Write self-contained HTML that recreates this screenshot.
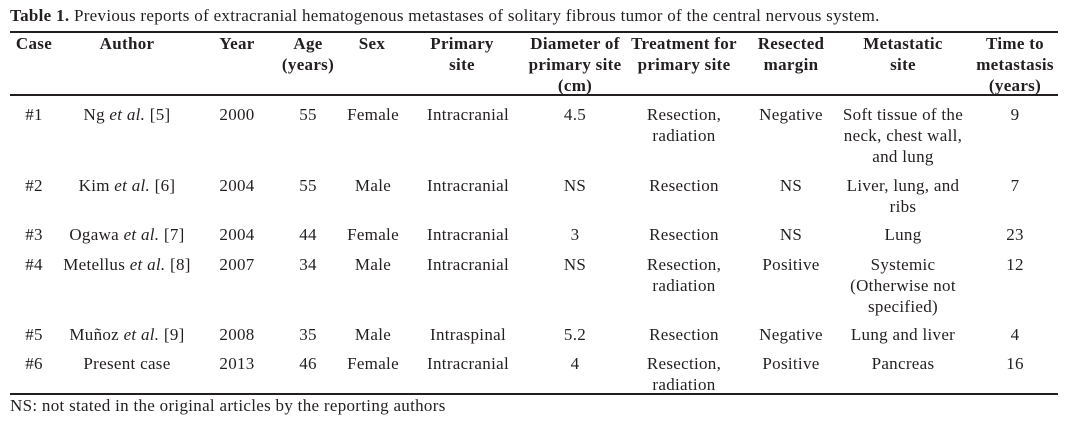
<!DOCTYPE html>
<html><head><meta charset="utf-8"><style>
html,body{margin:0;padding:0;background:#fff;}
body{width:1067px;height:423px;position:relative;overflow:hidden;font-family:"Liberation Serif",serif;color:#231f20;font-size:17px;letter-spacing:0.3px;}
.c{position:absolute;text-align:center;line-height:21px;white-space:nowrap;transform:translateX(-50%);}
.h{font-weight:bold;}
.l{position:absolute;left:10px;width:1048px;background:#231f20;}
</style></head><body>
<div style="position:absolute;left:10px;top:6px;line-height:20px;white-space:nowrap;"><b>Table 1.</b> Previous reports of extracranial hematogenous metastases of solitary fibrous tumor of the central nervous system.</div>
<div class="l" style="top:31px;height:2px"></div>
<div class="l" style="top:94px;height:1.5px"></div>
<div class="l" style="top:393px;height:1.5px"></div>

<div class="c h" style="left:34px;top:33px">Case</div>
<div class="c h" style="left:127px;top:33px">Author</div>
<div class="c h" style="left:237px;top:33px">Year</div>
<div class="c h" style="left:308px;top:33px">Age<br>(years)</div>
<div class="c h" style="left:372px;top:33px">Sex</div>
<div class="c h" style="left:462px;top:33px">Primary<br>site</div>
<div class="c h" style="left:575px;top:33px">Diameter of<br>primary site<br>(cm)</div>
<div class="c h" style="left:684px;top:33px">Treatment for<br>primary site</div>
<div class="c h" style="left:791px;top:33px">Resected<br>margin</div>
<div class="c h" style="left:903px;top:33px">Metastatic<br>site</div>
<div class="c h" style="left:1015px;top:33px">Time to<br>metastasis<br>(years)</div>

<div class="c" style="left:34px;top:104px">#1</div>
<div class="c" style="left:127px;top:104px">Ng <i>et al.</i> [5]</div>
<div class="c" style="left:237px;top:104px">2000</div>
<div class="c" style="left:308px;top:104px">55</div>
<div class="c" style="left:373px;top:104px">Female</div>
<div class="c" style="left:468px;top:104px">Intracranial</div>
<div class="c" style="left:575px;top:104px">4.5</div>
<div class="c" style="left:684px;top:104px">Resection,<br>radiation</div>
<div class="c" style="left:791px;top:104px">Negative</div>
<div class="c" style="left:903px;top:104px">Soft tissue of the<br>neck, chest wall,<br>and lung</div>
<div class="c" style="left:1015px;top:104px">9</div>

<div class="c" style="left:34px;top:175px">#2</div>
<div class="c" style="left:127px;top:175px">Kim <i>et al.</i> [6]</div>
<div class="c" style="left:237px;top:175px">2004</div>
<div class="c" style="left:308px;top:175px">55</div>
<div class="c" style="left:373px;top:175px">Male</div>
<div class="c" style="left:468px;top:175px">Intracranial</div>
<div class="c" style="left:575px;top:175px">NS</div>
<div class="c" style="left:684px;top:175px">Resection</div>
<div class="c" style="left:791px;top:175px">NS</div>
<div class="c" style="left:903px;top:175px">Liver, lung, and<br>ribs</div>
<div class="c" style="left:1015px;top:175px">7</div>

<div class="c" style="left:34px;top:224px">#3</div>
<div class="c" style="left:127px;top:224px">Ogawa <i>et al.</i> [7]</div>
<div class="c" style="left:237px;top:224px">2004</div>
<div class="c" style="left:308px;top:224px">44</div>
<div class="c" style="left:373px;top:224px">Female</div>
<div class="c" style="left:468px;top:224px">Intracranial</div>
<div class="c" style="left:575px;top:224px">3</div>
<div class="c" style="left:684px;top:224px">Resection</div>
<div class="c" style="left:791px;top:224px">NS</div>
<div class="c" style="left:903px;top:224px">Lung</div>
<div class="c" style="left:1015px;top:224px">23</div>

<div class="c" style="left:34px;top:254px">#4</div>
<div class="c" style="left:127px;top:254px">Metellus <i>et al.</i> [8]</div>
<div class="c" style="left:237px;top:254px">2007</div>
<div class="c" style="left:308px;top:254px">34</div>
<div class="c" style="left:373px;top:254px">Male</div>
<div class="c" style="left:468px;top:254px">Intracranial</div>
<div class="c" style="left:575px;top:254px">NS</div>
<div class="c" style="left:684px;top:254px">Resection,<br>radiation</div>
<div class="c" style="left:791px;top:254px">Positive</div>
<div class="c" style="left:903px;top:254px">Systemic<br>(Otherwise not<br>specified)</div>
<div class="c" style="left:1015px;top:254px">12</div>

<div class="c" style="left:34px;top:324px">#5</div>
<div class="c" style="left:127px;top:324px">Muñoz <i>et al.</i> [9]</div>
<div class="c" style="left:237px;top:324px">2008</div>
<div class="c" style="left:308px;top:324px">35</div>
<div class="c" style="left:373px;top:324px">Male</div>
<div class="c" style="left:468px;top:324px">Intraspinal</div>
<div class="c" style="left:575px;top:324px">5.2</div>
<div class="c" style="left:684px;top:324px">Resection</div>
<div class="c" style="left:791px;top:324px">Negative</div>
<div class="c" style="left:903px;top:324px">Lung and liver</div>
<div class="c" style="left:1015px;top:324px">4</div>

<div class="c" style="left:34px;top:353px">#6</div>
<div class="c" style="left:127px;top:353px">Present case</div>
<div class="c" style="left:237px;top:353px">2013</div>
<div class="c" style="left:308px;top:353px">46</div>
<div class="c" style="left:373px;top:353px">Female</div>
<div class="c" style="left:468px;top:353px">Intracranial</div>
<div class="c" style="left:575px;top:353px">4</div>
<div class="c" style="left:684px;top:353px">Resection,<br>radiation</div>
<div class="c" style="left:791px;top:353px">Positive</div>
<div class="c" style="left:903px;top:353px">Pancreas</div>
<div class="c" style="left:1015px;top:353px">16</div>

<div style="position:absolute;left:10px;top:396px;line-height:20px;white-space:nowrap;">NS: not stated in the original articles by the reporting authors</div>
</body></html>
